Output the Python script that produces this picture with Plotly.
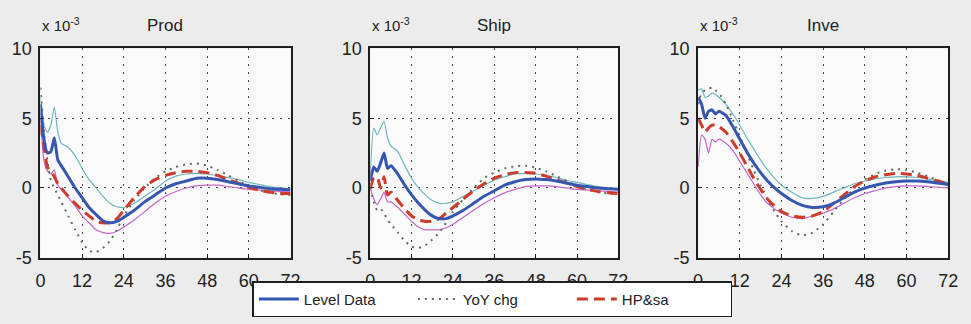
import plotly.graph_objects as go

x = [0, 1, 2, 3, 4, 5, 6, 8, 10, 12, 14, 16, 18, 20, 22, 24, 27, 30, 33, 36,
     39, 42, 45, 48, 51, 54, 57, 60, 63, 66, 69, 72]

titles = ["Prod", "Ship", "Inve"]

# Prod
prod_level = [6.0, 3.5, 2.5, 2.6, 3.6, 2.0, 1.6, 0.8, 0.0, -0.7, -1.4, -1.9, -2.35, -2.5, -2.4, -2.1,
              -1.6, -1.0, -0.5, 0.0, 0.3, 0.5, 0.7, 0.7, 0.6, 0.45, 0.3, 0.15, 0.05, -0.05, -0.1, -0.15]
prod_upper = [6.5, 4.5, 4.0, 4.5, 5.8, 4.0, 3.2, 2.9, 2.3, 1.4, 0.6, 0.0, -0.6, -1.1, -1.35, -1.4,
              -1.1, -0.6, -0.1, 0.5, 0.85, 1.0, 1.05, 1.0, 0.9, 0.75, 0.6, 0.4, 0.25, 0.1, 0.0, -0.05]
prod_lower = [5.0, 2.0, 1.2, 1.0, 1.3, 0.2, -0.1, -0.7, -1.3, -2.0, -2.5, -3.0, -3.2, -3.25, -3.1, -2.8,
              -2.3, -1.7, -1.1, -0.6, -0.25, 0.0, 0.15, 0.2, 0.2, 0.1, 0.0, -0.1, -0.15, -0.2, -0.25, -0.3]
prod_hp = [4.5, 3.0, 1.5, 1.2, 0.8, 0.3, 0.0, -0.6, -1.1, -1.6, -2.0, -2.4, -2.5, -2.5, -2.2, -1.6,
           -0.7, 0.1, 0.6, 0.9, 1.1, 1.2, 1.2, 1.1, 0.9, 0.6, 0.35, 0.05, -0.15, -0.3, -0.4, -0.4]
prod_yoy = [7.2, 4.0, 2.0, 0.5, 0.0, -0.5, -1.0, -2.0, -3.0, -3.9, -4.5, -4.6, -4.3, -3.8, -3.0, -2.0,
            -0.9, 0.0, 0.7, 1.2, 1.5, 1.7, 1.75, 1.6, 1.3, 0.9, 0.5, 0.15, -0.15, -0.35, -0.45, -0.5]

# Ship
ship_level = [0.5, 1.5, 1.2, 1.8, 2.5, 1.4, 1.6, 1.0, 0.2, -0.5, -1.1, -1.6, -2.0, -2.2, -2.2, -2.0,
              -1.6, -1.1, -0.6, -0.2, 0.2, 0.45, 0.6, 0.65, 0.6, 0.5, 0.35, 0.2, 0.1, 0.0, -0.05, -0.1]
ship_upper = [1.0, 4.3, 3.8, 4.3, 4.8, 3.6, 3.0, 2.6, 1.6, 0.7, 0.0, -0.5, -0.9, -1.1, -1.1, -1.0,
              -0.6, -0.2, 0.2, 0.55, 0.8, 1.0, 1.05, 1.0, 0.9, 0.75, 0.55, 0.4, 0.25, 0.1, 0.0, -0.05]
ship_lower = [0.0, -0.8, -1.2, -0.8, -0.3, -1.0, -1.0, -1.4, -1.9, -2.4, -2.8, -3.0, -3.0, -3.0, -2.85, -2.6,
              -2.1, -1.6, -1.1, -0.7, -0.35, -0.1, 0.1, 0.15, 0.15, 0.1, 0.0, -0.1, -0.15, -0.2, -0.25, -0.3]
ship_hp = [0.0, 0.7, 0.8, 0.0, 0.8, -0.5, -0.3, -0.9, -1.5, -2.0, -2.3, -2.4, -2.4, -2.2, -1.8, -1.4,
           -0.8, -0.2, 0.3, 0.7, 0.95, 1.1, 1.1, 1.05, 0.85, 0.6, 0.35, 0.1, -0.1, -0.25, -0.35, -0.4]
ship_yoy = [0.0, -1.0, -1.6, -1.5, -1.8, -2.3, -2.6, -3.2, -3.8, -4.2, -4.3, -4.1, -3.7, -3.2, -2.5, -1.7,
            -0.8, 0.0, 0.7, 1.1, 1.4, 1.55, 1.6, 1.45, 1.2, 0.85, 0.5, 0.15, -0.1, -0.3, -0.4, -0.45]

# Inve
inve_level = [6.5, 6.0, 5.0, 5.5, 5.6, 5.3, 5.5, 5.2, 4.4, 3.5, 2.6, 1.8, 1.1, 0.5, 0.0, -0.4,
              -0.9, -1.25, -1.4, -1.35, -1.1, -0.7, -0.3, 0.0, 0.2, 0.35, 0.45, 0.5, 0.5, 0.45, 0.35, 0.25]
inve_upper = [7.0, 7.1, 6.5, 6.6, 6.8, 6.7, 6.5, 6.0, 5.3, 4.5, 3.6, 2.8, 2.0, 1.3, 0.7, 0.2,
              -0.3, -0.7, -0.75, -0.6, -0.3, 0.0, 0.3, 0.5, 0.65, 0.75, 0.8, 0.8, 0.75, 0.65, 0.5, 0.4]
inve_lower = [1.5, 3.8, 3.5, 2.5, 3.5, 3.3, 3.5, 3.2, 2.7, 1.9, 1.1, 0.3, -0.5, -1.1, -1.5, -1.8,
              -2.1, -2.2, -2.0, -1.8, -1.5, -1.1, -0.7, -0.4, -0.2, 0.0, 0.1, 0.15, 0.15, 0.1, 0.05, 0.0]
inve_hp = [5.0, 4.5, 4.0, 4.3, 4.5, 4.5, 4.4, 4.0, 3.3, 2.5, 1.6, 0.7, -0.1, -0.8, -1.3, -1.7,
           -2.0, -2.1, -2.0, -1.7, -1.1, -0.5, 0.1, 0.5, 0.8, 0.95, 1.05, 1.0, 0.9, 0.7, 0.5, 0.3]
inve_yoy = [6.0, 6.8, 7.0, 7.1, 7.2, 7.0, 6.8, 6.0, 4.9, 3.7, 2.5, 1.3, 0.2, -0.8, -1.7, -2.4,
            -3.1, -3.4, -3.2, -2.6, -1.7, -0.8, 0.0, 0.6, 1.0, 1.25, 1.35, 1.3, 1.1, 0.85, 0.55, 0.3]

panels = [
    (prod_level, prod_upper, prod_lower, prod_hp, prod_yoy),
    (ship_level, ship_upper, ship_lower, ship_hp, ship_yoy),
    (inve_level, inve_upper, inve_lower, inve_hp, inve_yoy),
]

x_ticks = [0, 12, 24, 36, 48, 60, 72]
y_ticks = [-5, 0, 5, 10]
scale = 1e-3

W, H = 971, 324
x_px = [(36, 290), (371, 623), (704, 958)]
y_px = (41, 264)

fig = go.Figure()
font_family = "Liberation Sans, Arial, sans-serif"

for i, (lev, up, lo, hp, yoy) in enumerate(panels):
    xa = "x" if i == 0 else f"x{i+1}"
    ya = "y" if i == 0 else f"y{i+1}"
    first = i == 0
    sm = dict(shape="spline", smoothing=0.5)
    fig.add_trace(go.Scatter(x=x, y=[v * scale for v in up], mode="lines", xaxis=xa, yaxis=ya,
                             line=dict(color="#6fb6bb", width=1.2, **sm), showlegend=False))
    fig.add_trace(go.Scatter(x=x, y=[v * scale for v in lo], mode="lines", xaxis=xa, yaxis=ya,
                             line=dict(color="#c466c8", width=1.2, **sm), showlegend=False))
    fig.add_trace(go.Scatter(x=x, y=[v * scale for v in yoy], mode="lines", xaxis=xa, yaxis=ya,
                             name="YoY chg", legendrank=2, showlegend=first,
                             line=dict(color="#5f6f5f", width=2, dash="2px,5px", **sm)))
    fig.add_trace(go.Scatter(x=x, y=[v * scale for v in hp], mode="lines", xaxis=xa, yaxis=ya,
                             name="HP&sa", legendrank=3, showlegend=first,
                             line=dict(color="#cf3b2b", width=3, dash="11px,6px", **sm)))
    fig.add_trace(go.Scatter(x=x, y=[v * scale for v in lev], mode="lines", xaxis=xa, yaxis=ya,
                             name="Level Data", legendrank=1, showlegend=first,
                             line=dict(color="#3557b0", width=3, **sm)))

    axis_common = dict(showline=True, linecolor="#1e1e1e", linewidth=2, mirror=True,
                       ticks="inside", ticklen=4, tickcolor="#1e1e1e",
                       showgrid=True, gridcolor="#444444", griddash="2px,6px", gridwidth=1.3,
                       zeroline=False, tickfont=dict(family=font_family, size=18, color="#222222"))
    x0, x1 = x_px[i]
    fig.layout[f"xaxis{'' if i == 0 else i+1}"] = dict(
        domain=[x0 / W, x1 / W], range=[0, 72], tickvals=x_ticks,
        ticktext=[str(t) for t in x_ticks], anchor=ya, ticklabelstandoff=6, **axis_common)
    fig.layout[f"yaxis{'' if i == 0 else i+1}"] = dict(
        domain=[1 - y_px[1] / H, 1 - y_px[0] / H], range=[-5 * scale, 10 * scale],
        tickvals=[t * scale for t in y_ticks], ticktext=[str(t) for t in y_ticks],
        anchor=xa, ticklabelstandoff=3, **axis_common)

    fig.add_annotation(x=x0 / W, y=1 - 28 / H, xref="paper", yref="paper",
                       xanchor="left", yanchor="bottom", showarrow=False,
                       text="x 10<sup>-3</sup>",
                       font=dict(family=font_family, size=15, color="#222222"))
    fig.add_annotation(x=(x0 + x1) / 2 / W, y=1 - 29 / H, xref="paper", yref="paper",
                       xanchor="center", yanchor="bottom", showarrow=False, text=titles[i],
                       font=dict(family=font_family, size=17, color="#222222"))

fig.update_layout(
    width=W, height=H, margin=dict(l=0, r=0, t=0, b=0),
    paper_bgcolor="#ececec", plot_bgcolor="#fafafa",
    showlegend=True,
    legend=dict(orientation="h", x=495 / W, y=1 - 289 / H, xanchor="center", yanchor="top",
                bgcolor="#ffffff", bordercolor="#1e1e1e", borderwidth=1.5,
                font=dict(family=font_family, size=15, color="#222222"),
                entrywidth=104, traceorder="normal", itemwidth=40, tracegroupgap=0),
)

fig.write_html("out.html")
